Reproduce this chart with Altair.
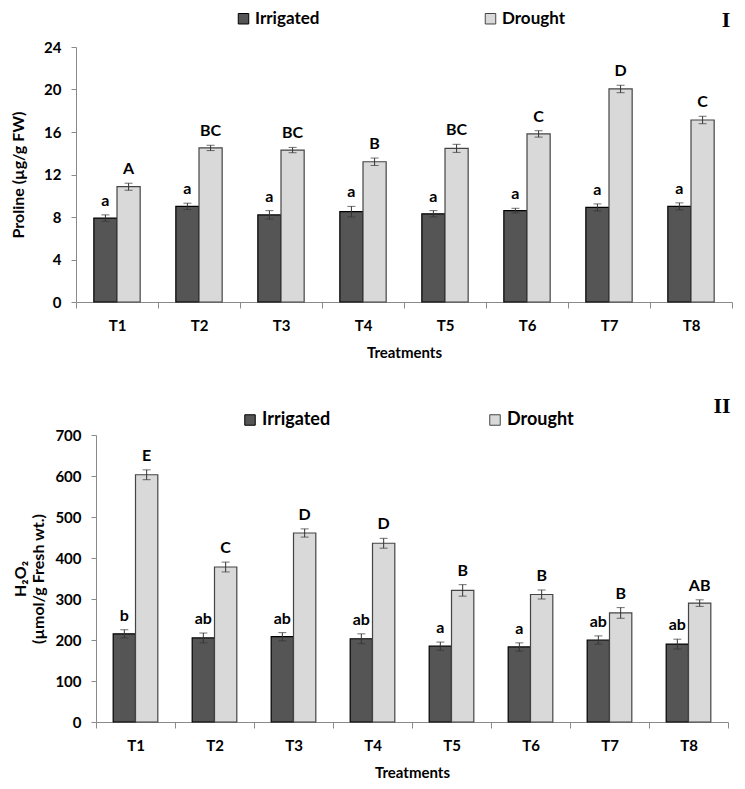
import altair as alt
import pandas as pd

treatments = ["T1", "T2", "T3", "T4", "T5", "T6", "T7", "T8"]
groups = ["Irrigated", "Drought"]

proline_irr = [7.9, 9.0, 8.2, 8.5, 8.3, 8.6, 8.9, 9.0]
proline_irr_err = [0.3, 0.3, 0.4, 0.5, 0.3, 0.22, 0.33, 0.33]
proline_dro = [10.85, 14.5, 14.3, 13.2, 14.46, 15.82, 20.05, 17.13]
proline_dro_err = [0.33, 0.25, 0.25, 0.35, 0.38, 0.3, 0.35, 0.35]
proline_irr_letters = ["a", "a", "a", "a", "a", "a", "a", "a"]
proline_dro_letters = ["A", "BC", "BC", "B", "BC", "C", "D", "C"]

h2o2_irr = [215, 205, 208, 203, 185, 183, 200, 190]
h2o2_irr_err = [10, 12, 10, 12, 10, 10, 10, 12]
h2o2_dro = [603, 378, 461, 436, 321, 311, 266, 290]
h2o2_dro_err = [12, 12, 10, 12, 14, 11, 13, 8]
h2o2_irr_letters = ["b", "ab", "ab", "ab", "a", "a", "ab", "ab"]
h2o2_dro_letters = ["E", "C", "D", "D", "B", "B", "B", "AB"]

FONT = "Lato"
AXIS_GRAY = "#8a8a8a"


def make_df(irr, irr_err, irr_let, dro, dro_err, dro_let):
    rows = []
    for i, t in enumerate(treatments):
        rows.append(dict(treatment=t, group="Irrigated", value=irr[i],
                         lo=irr[i] - irr_err[i], hi=irr[i] + irr_err[i], letter=irr_let[i]))
        rows.append(dict(treatment=t, group="Drought", value=dro[i],
                         lo=dro[i] - dro_err[i], hi=dro[i] + dro_err[i], letter=dro_let[i]))
    return pd.DataFrame(rows)


def panel(df, ymax, ystep, ytitle, width, height, xrange, yoffset, ytitlepad,
          leg_x, leg_y, colpad, legfont, label, lab_x, lab_y):
    xscale = alt.Scale(domain=treatments, paddingInner=0, paddingOuter=0)
    if xrange is not None:
        xscale = alt.Scale(domain=treatments, paddingInner=0, paddingOuter=0, range=xrange)
    x = alt.X("treatment:N", sort=treatments, scale=xscale,
              axis=alt.Axis(title="Treatments", labelAngle=0, tickBand="extent",
                            tickSize=6, labelPadding=10, titlePadding=12,
                            domainColor=AXIS_GRAY, tickColor=AXIS_GRAY))
    xo = alt.XOffset("group:N", sort=groups,
                     scale=alt.Scale(domain=groups, paddingInner=0, paddingOuter=0.77))
    yscale = alt.Scale(domain=[0, ymax], nice=False)
    yaxis = alt.Axis(title=ytitle, values=list(range(0, ymax + 1, ystep)), grid=False,
                     tickSize=5, labelPadding=10, titlePadding=ytitlepad, offset=yoffset,
                     domainColor=AXIS_GRAY, tickColor=AXIS_GRAY)
    base = alt.Chart(df)
    bars = base.mark_bar(strokeWidth=1.2).encode(
        x=x, xOffset=xo,
        y=alt.Y("value:Q", scale=yscale, axis=yaxis),
        color=alt.Color("group:N", sort=groups,
                        scale=alt.Scale(domain=groups, range=["#555555", "#d9d9d9"]),
                        legend=alt.Legend(title=None, orient="none", direction="horizontal",
                                          legendX=leg_x, legendY=leg_y,
                                          symbolType="square", symbolSize=110,
                                          symbolStrokeColor="#333333", symbolStrokeWidth=1,
                                          labelFont=FONT, labelFontSize=legfont,
                                          labelFontWeight="bold", labelColor="black",
                                          columnPadding=colpad, labelOffset=3)),
        stroke=alt.Stroke("group:N", sort=groups,
                          scale=alt.Scale(domain=groups, range=["#000000", "#444444"]),
                          legend=None),
    )
    rule = base.mark_rule(color="#333333", strokeWidth=1).encode(
        x=x, xOffset=xo, y=alt.Y("lo:Q", scale=yscale), y2="hi:Q")
    cap_lo = base.mark_tick(color="#333333", thickness=1, size=8).encode(
        x=x, xOffset=xo, y=alt.Y("lo:Q", scale=yscale))
    cap_hi = base.mark_tick(color="#333333", thickness=1, size=8).encode(
        x=x, xOffset=xo, y=alt.Y("hi:Q", scale=yscale))
    letters = base.mark_text(font=FONT, fontSize=16, fontWeight="bold", color="black",
                             baseline="bottom", dy=-6).encode(
        x=x, xOffset=xo, y=alt.Y("hi:Q", scale=yscale), text="letter:N")
    lab = alt.Chart(pd.DataFrame({"label": [label]})).mark_text(
        font="Liberation Serif", fontSize=22, fontWeight="bold", color="black",
        align="center", baseline="middle").encode(
        x=alt.value(lab_x), y=alt.value(lab_y), text="label:N")
    return alt.layer(bars, rule, cap_lo, cap_hi, letters, lab).properties(
        width=width, height=height)


df1 = make_df(proline_irr, proline_irr_err, proline_irr_letters,
              proline_dro, proline_dro_err, proline_dro_letters)
df2 = make_df(h2o2_irr, h2o2_irr_err, h2o2_irr_letters,
              h2o2_dro, h2o2_dro_err, h2o2_dro_letters)

p1 = panel(df1, 24, 4, "Proline (µg/g FW)", 656, 255, None, 0, 17,
           159, -37, 162, 17, "I", 650, -27)
p2 = panel(df2, 700, 100, ["H₂O₂", "(µmol/g Fresh wt.)"], 652, 287, [20, 652], -20, 8,
           165, -24, 155, 18, "II", 646, -29)

chart = alt.vconcat(p1, p2, spacing=35).resolve_scale(
    x="independent", y="independent", color="independent", stroke="independent",
    xOffset="independent"
).properties(
    padding={"left": 2, "top": 1, "right": 0, "bottom": 2}
).configure_view(stroke=None).configure_axis(
    labelFont=FONT, labelFontSize=15, labelFontWeight="bold", labelColor="black",
    titleFont=FONT, titleFontSize=15, titleFontWeight="bold", titleColor="black"
).configure_axisLeft(titleFontSize=16)

chart.save("out.html", embed_options={"renderer": "svg", "actions": False})
